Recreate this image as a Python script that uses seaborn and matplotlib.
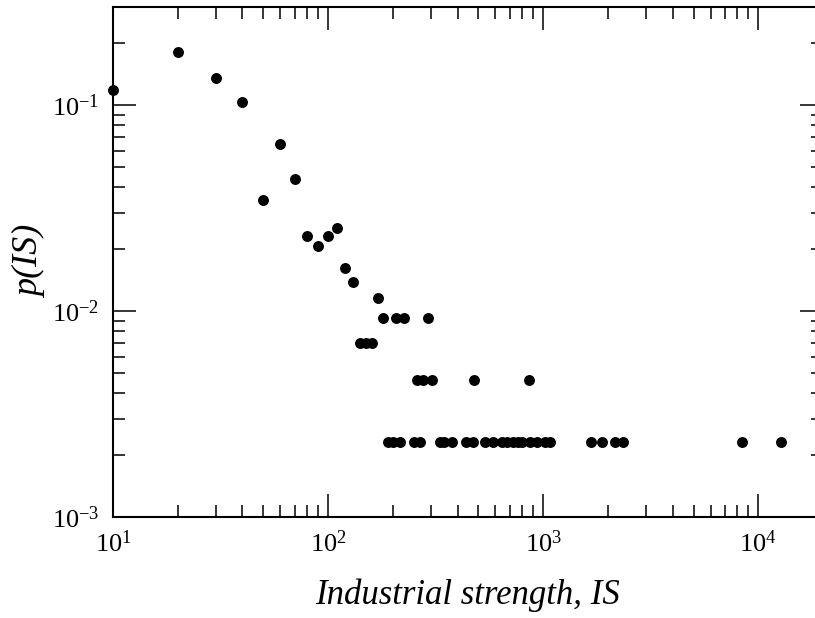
import numpy as np
import pandas as pd
import matplotlib
matplotlib.use("Agg")
import matplotlib.pyplot as plt
import seaborn as sns

# ------------------- Données -------------------
strength = [10, 20, 30, 40, 50, 60, 70, 80, 90, 100, 110, 120, 130,
            140, 150, 160, 170,
            180, 208, 225, 290,
            258, 276, 305, 475, 860,
            189, 200, 215, 250, 268, 330, 345, 376, 437, 470,
            535, 582, 641, 680, 721, 760, 794, 865, 932, 1016, 1072,
            1660, 1880, 2150, 2340, 8400, 12800]
prob = [0.118, 0.182, 0.136, 0.104, 0.0348, 0.0648, 0.044, 0.0231, 0.0208,
        0.0231, 0.0254, 0.0162, 0.0138,
        0.00698, 0.00698, 0.00698, 0.0116,
        0.00925, 0.00925, 0.00925, 0.00925,
        0.00463, 0.00463, 0.00463, 0.00463, 0.00463,
        0.00231, 0.00231, 0.00231, 0.00231, 0.00231, 0.00231, 0.00231,
        0.00231, 0.00231, 0.00231,
        0.00231, 0.00231, 0.00231, 0.00231, 0.00231, 0.00231, 0.00231,
        0.00231, 0.00231, 0.00231, 0.00231,
        0.00231, 0.00231, 0.00231, 0.00231, 0.00231, 0.00231]

df = pd.DataFrame({"IS": strength, "p": prob})

# ------------------- Style -------------------
sns.set_style("ticks")
plt.rcParams["font.family"] = ["Liberation Serif", "DejaVu Serif"]
plt.rcParams["mathtext.fontset"] = "custom"
plt.rcParams["mathtext.rm"] = "Liberation Serif"
plt.rcParams["axes.linewidth"] = 1.5
plt.rcParams["text.color"] = "black"
plt.rcParams["axes.labelcolor"] = "black"
plt.rcParams["xtick.color"] = "black"
plt.rcParams["ytick.color"] = "black"
plt.rcParams["axes.edgecolor"] = "black"

fig = plt.figure(figsize=(8.15, 6.18), dpi=100)
ax = fig.add_axes([113 / 815, 101 / 618, 710 / 815, 510 / 618])

sns.scatterplot(data=df, x="IS", y="p", ax=ax, color="black", s=62,
                linewidth=0, clip_on=False, zorder=3)

ax.set_xscale("log")
ax.set_yscale("log")
ax.set_xlim(10, 2e4)
ax.set_ylim(1e-3, 0.3)

ax.tick_params(which="both", direction="in", top=True, right=True,
               labelsize=19, width=1.1)
ax.tick_params(which="major", length=16.5, pad=10)
ax.tick_params(which="minor", length=8.5)

ax.set_xlabel("Industrial strength, IS", fontsize=25, fontstyle="italic",
              labelpad=15)
ax.set_ylabel("p(IS)", fontsize=26, fontstyle="italic")
ax.yaxis.set_label_coords(-0.093, 0.5)

fig.savefig("out.png", dpi=100)
